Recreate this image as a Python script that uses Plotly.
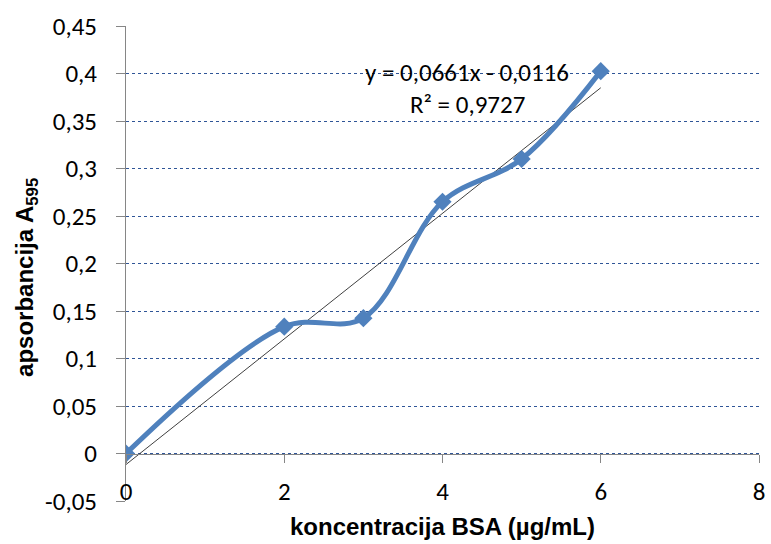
import plotly.graph_objects as go

# BSA calibration data (Bradford assay)
concentration = [0, 2, 3, 4, 5, 6]
absorbance = [0.0, 0.1335, 0.1425, 0.265, 0.310, 0.4025]

# Linear trendline reported on the chart
slope = 0.0661
intercept = -0.0116
r_squared = 0.9727
trend_x = [0, 6]
trend_y = [slope * x + intercept for x in trend_x]

y_ticks = [-0.05, 0, 0.05, 0.1, 0.15, 0.2, 0.25, 0.3, 0.35, 0.4, 0.45]
y_tick_text = ["-0,05", "0", "0,05", "0,1", "0,15", "0,2", "0,25", "0,3", "0,35", "0,4", "0,45"]
x_ticks = [0, 2, 4, 6, 8]
x_tick_text = ["0", "2", "4", "6", "8"]

LINE_BLUE = "#4F81BD"
GRID_BLUE = "#2F5597"
AXIS_GRAY = "#868686"
REG_FONT = "Carlito, Open Sans, sans-serif"
BOLD_FONT = "Liberation Sans, Arial, sans-serif"

fig = go.Figure()

fig.add_trace(go.Scatter(
    x=trend_x, y=trend_y, mode="lines",
    line=dict(color="#404040", width=1),
    hoverinfo="skip", showlegend=False,
))

fig.add_trace(go.Scatter(
    x=concentration, y=absorbance, mode="lines+markers",
    line=dict(color=LINE_BLUE, width=5, shape="spline", smoothing=1),
    marker=dict(symbol="diamond", size=14, color=LINE_BLUE),
    showlegend=False,
))

eq_text = "y = {:.4f}x - {:.4f}".format(slope, abs(intercept)).replace(".", ",")
r2_text = "R² = {:.4f}".format(r_squared).replace(".", ",")
fig.add_annotation(x=4.31, y=0.4, xref="x", yref="y", text=eq_text, showarrow=False,
                   font=dict(family=REG_FONT, size=25, color="#000000"), yshift=1)
fig.add_annotation(x=4.31, y=0.4, xref="x", yref="y", text=r2_text, showarrow=False,
                   font=dict(family=REG_FONT, size=25, color="#000000"), yshift=-31)

# y-axis title placed as an annotation so its vertical centre can be set freely
fig.add_annotation(x=-101 / 639, y=(501 - 277) / 475, xref="paper", yref="paper",
                   text="apsorbancija A<sub>595</sub>", textangle=-90, showarrow=False,
                   xanchor="center", yanchor="middle",
                   font=dict(family=BOLD_FONT, size=24, color="#000000", weight="bold"))

fig.update_layout(
    width=771, height=544,
    margin=dict(l=126, r=6, t=26, b=43),
    paper_bgcolor="white", plot_bgcolor="white",
    font=dict(family=REG_FONT, size=25, color="#000000"),
    xaxis=dict(
        range=[0, 8], tickvals=x_ticks, ticktext=x_tick_text,
        anchor="free", position=0.1,
        showline=True, linecolor=AXIS_GRAY, linewidth=1,
        ticks="outside", ticklen=8, tickcolor=AXIS_GRAY,
        ticklabelstandoff=7, ticklabeloverflow="allow",
        showgrid=False, zeroline=False,
        title=dict(text="koncentracija BSA (µg/mL)", standoff=12,
                   font=dict(family=BOLD_FONT, size=24, weight="bold")),
    ),
    yaxis=dict(
        range=[-0.05, 0.45], tickvals=y_ticks, ticktext=y_tick_text,
        showline=True, linecolor=AXIS_GRAY, linewidth=1,
        ticks="outside", ticklen=9, tickcolor=AXIS_GRAY,
        ticklabelstandoff=14,
        showgrid=True, gridcolor=GRID_BLUE, griddash="dot", gridwidth=1,
        zeroline=False,
    ),
)

fig.write_html("out.html")
